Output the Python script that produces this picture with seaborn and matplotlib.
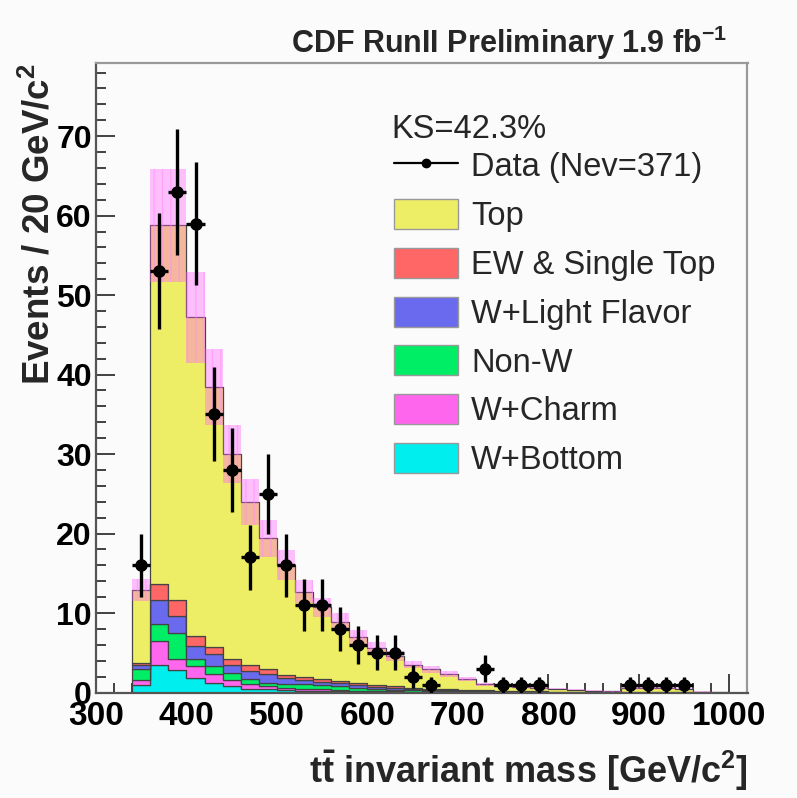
import numpy as np
import pandas as pd
import matplotlib
matplotlib.use("Agg")
import matplotlib.pyplot as plt
from matplotlib.lines import Line2D
from matplotlib.patches import Patch
import seaborn as sns

# ---------------- data ----------------
bin_left = [340, 360, 380, 400, 420, 440, 460, 480, 500, 520, 540, 560, 580, 600,
            620, 640, 660, 680, 700, 720, 740, 760, 780, 800, 820, 840, 860, 880,
            900, 920, 940, 960, 980]
bin_width = 20

total_pred = [12.9, 58.8, 58.8, 47.2, 38.4, 30.0, 24.0, 19.4, 16.0, 12.7, 10.7, 8.9,
              7.0, 5.6, 4.6, 3.5, 2.9, 2.3, 1.7, 1.05, 0.8, 0.7, 0.6, 0.5, 0.35,
              0.25, 0.15, 0.6, 0.6, 0.55, 0.5, 0.1, 0.05]
ew_single_top = [0.3, 1.9, 2.1, 1.3, 0.9, 0.7, 0.8, 0.7, 0.4, 0.4, 0.35, 0.3, 0.3, 0.25,
                 0.2, 0.15, 0.12, 0.1, 0.08, 0.07, 0.05, 0.04, 0.04, 0.03, 0.02, 0.02,
                 0.01, 0.01, 0.01, 0.01, 0.01, 0.0, 0.0]
w_light = [0.5, 3.1, 2.1, 1.6, 1.5, 1.1, 1.0, 1.1, 0.7, 0.5, 0.45, 0.4, 0.35, 0.3,
           0.25, 0.2, 0.15, 0.12, 0.1, 0.08, 0.06, 0.05, 0.04, 0.03, 0.02, 0.02,
           0.01, 0.01, 0.01, 0.01, 0.01, 0.0, 0.0]
non_w = [1.3, 2.1, 3.3, 0.9, 1.0, 0.8, 0.6, 0.4, 0.5, 0.55, 0.5, 0.45, 0.3, 0.25,
         0.2, 0.15, 0.12, 0.1, 0.08, 0.07, 0.05, 0.04, 0.03, 0.02, 0.02, 0.01,
         0.01, 0.01, 0.01, 0.01, 0.0, 0.0, 0.0]
w_charm = [0.7, 3.0, 1.4, 1.5, 1.1, 0.8, 0.6, 0.4, 0.3, 0.25, 0.2, 0.2, 0.15, 0.1,
           0.08, 0.06, 0.05, 0.04, 0.03, 0.02, 0.02, 0.01, 0.01, 0.01, 0.01, 0.0,
           0.0, 0.0, 0.0, 0.0, 0.0, 0.0, 0.0]
w_bottom = [0.9, 3.5, 2.8, 1.8, 1.2, 0.8, 0.5, 0.4, 0.3, 0.25, 0.2, 0.15, 0.1, 0.1,
            0.08, 0.06, 0.05, 0.04, 0.03, 0.02, 0.02, 0.01, 0.01, 0.01, 0.0, 0.0,
            0.0, 0.0, 0.0, 0.0, 0.0, 0.0, 0.0]
band_halfwidth = [1.4, 7.1, 7.1, 5.7, 4.8, 3.6, 2.9, 2.3, 1.9, 1.5, 1.2, 1.05, 0.9, 0.75,
                  0.6, 0.45, 0.4, 0.35, 0.3, 0.2, 0.15, 0.12, 0.1, 0.1, 0.08, 0.06,
                  0.05, 0.1, 0.1, 0.1, 0.1, 0.03, 0.02]

data_mass = [350, 370, 390, 410, 430, 450, 470, 490, 510, 530, 550, 570, 590, 610,
             630, 650, 670, 730, 750, 770, 790, 890, 910, 930, 950]
data_events = [16, 53, 63, 59, 35, 28, 17, 25, 16, 11, 11, 8, 6, 5, 5, 2, 1, 3, 1, 1,
               1, 1, 1, 1, 1]
data_err = [4.0, 7.3, 7.9, 7.7, 5.9, 5.3, 4.1, 5.0, 4.0, 3.3, 3.3, 2.8, 2.4, 2.2, 2.2,
            1.4, 1.0, 1.7, 1.0, 1.0, 1.0, 1.0, 1.0, 1.0, 1.0]

process_names = ["Top", "EW & Single Top", "W+Light Flavor", "Non-W", "W+Charm", "W+Bottom"]
process_colors = ["#eeee66", "#ff6666", "#6a6aee", "#00ee66", "#ff66ee", "#00eeee"]

# ---------------- build long table ----------------
bkg = {
    "EW & Single Top": ew_single_top,
    "W+Light Flavor": w_light,
    "Non-W": non_w,
    "W+Charm": w_charm,
    "W+Bottom": w_bottom,
}
bkg_sum = np.sum([np.array(v) for v in bkg.values()], axis=0)
top_vals = np.array(total_pred) - bkg_sum
comp = {"Top": top_vals, **{k: np.array(v) for k, v in bkg.items()}}
centers = np.array(bin_left) + bin_width / 2
rows = []
for name in process_names:
    for c, w in zip(centers, comp[name]):
        rows.append({"mass": float(c), "events": float(w), "process": name})
df = pd.DataFrame(rows)
edges = np.append(np.array(bin_left, dtype=float), bin_left[-1] + bin_width)

# ---------------- style ----------------
sns.set_theme(style="ticks")
plt.rcParams["font.family"] = ["Liberation Sans", "DejaVu Sans"]
plt.rcParams["mathtext.fontset"] = "custom"
plt.rcParams["mathtext.rm"] = "Liberation Sans:bold"
plt.rcParams["mathtext.bf"] = "Liberation Sans:bold"
plt.rcParams["mathtext.it"] = "Liberation Sans:bold"
bg = "#fbfbfb"

fig = plt.figure(figsize=(7.97, 7.98), dpi=100, facecolor=bg)
ax = fig.add_axes([96 / 797, 1 - 692.5 / 798, (747.5 - 96) / 797, (692.5 - 63) / 798])
ax.set_facecolor(bg)

palette = dict(zip(process_names, process_colors))
sns.histplot(data=df, x="mass", weights="events", hue="process", hue_order=process_names,
             bins=edges.tolist(), multiple="stack", element="step", palette=palette,
             alpha=1.0, edgecolor="#444444", linewidth=0.9, legend=False, ax=ax)

# uncertainty band
tot = np.array(total_pred)
lo = np.append(tot - np.array(band_halfwidth), tot[-1] - band_halfwidth[-1])
hi = np.append(tot + np.array(band_halfwidth), tot[-1] + band_halfwidth[-1])
ax.fill_between(edges, lo, hi, step="post", facecolor="#ff55ff", alpha=0.36, linewidth=0)
ax.fill_between(edges, lo, hi, step="post", facecolor="none", edgecolor="#ff88ff",
                hatch="||", linewidth=0, alpha=0.5)

# data
ax.errorbar(data_mass, data_events, yerr=data_err, xerr=bin_width / 2, fmt="o",
            color="black", ms=8, elinewidth=2.4, capsize=0, zorder=10)

# axes
ax.set_xlim(300, 1020)
ax.set_ylim(0, 79.2)
ax.set_xticks([300, 400, 500, 600, 700, 800, 900, 1000])
ax.set_xticks(np.arange(300, 1020, 20), minor=True)
ax.set_yticks(np.arange(0, 80, 10))
ax.set_yticks(np.arange(0, 80, 2), minor=True)
ax.tick_params(axis="both", which="both", direction="in", top=False, right=False,
               colors="#333333", width=1.3)
ax.tick_params(axis="both", which="major", length=13.5, labelsize=24, labelcolor="black")
ax.tick_params(axis="y", which="major", labelsize=23, pad=3)
ax.tick_params(axis="both", which="minor", length=7)
ax.tick_params(axis="x", which="major", pad=6)
for lab in ax.get_xticklabels() + ax.get_yticklabels():
    lab.set_fontweight("bold")
for side, sp in ax.spines.items():
    sp.set_visible(True)
    sp.set_linewidth(1.6)
    sp.set_color("#555555" if side in ("left", "bottom") else "#999999")

ax.set_xlabel(r"t$\bar{\mathrm{t}}$ invariant mass [GeV/c$^{2}$]", fontsize=26,
              fontweight="bold", loc="right", labelpad=12)
ax.set_ylabel(r"Events / 20 GeV/c$^{2}$", fontsize=26.5, fontweight="bold", loc="top",
              labelpad=-1)

fig.text(727 / 797, 1 - 43 / 798, r"CDF RunII Preliminary 1.9 fb$^{-1}$", ha="right",
         va="center", fontsize=22, fontweight="bold")

# legend
ax.text(391 / 797, 1 - 130 / 798, "KS=42.3%", transform=fig.transFigure, fontsize=23.5,
        ha="left", va="center")
handles = [Line2D([0], [0], color="black", marker="o", ms=6, lw=1.6)]
handles += [Patch(facecolor=c, edgecolor="#999999", linewidth=1.0) for c in process_colors]
labels = ["Data (Nev=371)"] + process_names
ax.legend(handles, labels, loc="upper left", bbox_to_anchor=(394 / 797, 1 - 150 / 798),
          bbox_transform=fig.transFigure, frameon=False, fontsize=23.5, handlelength=1.96,
          handleheight=1.04, labelspacing=0.48, handletextpad=0.4, borderpad=0,
          borderaxespad=0)

fig.savefig("out.png", dpi=100, facecolor=bg)
